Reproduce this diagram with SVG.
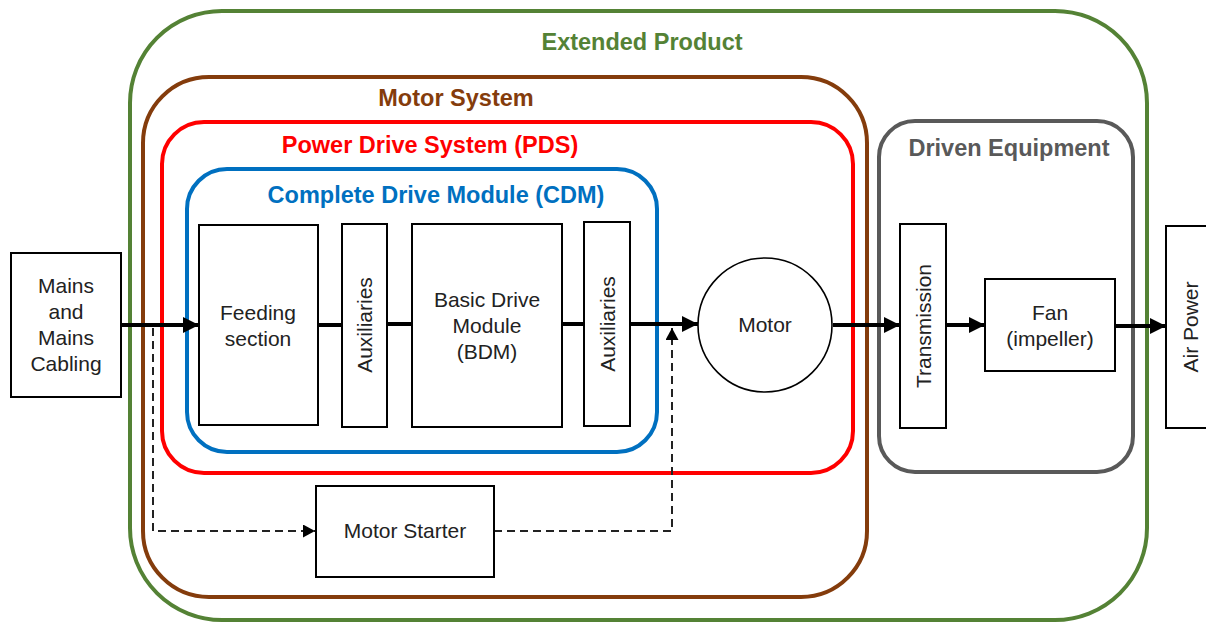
<svg xmlns="http://www.w3.org/2000/svg" width="1206" height="623" viewBox="0 0 1206 623">
  <style>
    .frame { fill: none; stroke-width: 4; }
    .box { fill: #ffffff; stroke: #000000; stroke-width: 2; }
    .lbl { font-family: "Liberation Sans", Arial, sans-serif; font-size: 21px; fill: #222222; text-anchor: middle; }
    .head { font-family: "Liberation Sans", Arial, sans-serif; font-size: 23.5px; font-weight: bold; text-anchor: middle; }
    .flow { fill: none; stroke: #000000; stroke-width: 4; }
    .ctrl { fill: none; stroke: #222222; stroke-width: 2; stroke-dasharray: 8 5; }
  </style>
  <defs>
    <marker id="arrow" markerUnits="userSpaceOnUse" markerWidth="18" markerHeight="18" refX="16" refY="8" orient="auto">
      <path d="M0,0 L16,8 L0,16 Z" fill="#000000"/>
    </marker>
    <marker id="arrowSmall" markerUnits="userSpaceOnUse" markerWidth="13" markerHeight="13" refX="12" refY="6.5" orient="auto">
      <path d="M0,0 L12,6.5 L0,13 Z" fill="#000000"/>
    </marker>
  </defs>
  <rect width="1206" height="623" fill="#ffffff"/>

  <!-- nested system boundaries -->
  <g id="extended-product">
    <rect class="frame" x="130" y="11" width="1017" height="609" rx="92" stroke="#548235"/>
    <text class="head" x="642" y="50" fill="#548235">Extended Product</text>
  </g>
  <g id="motor-system">
    <rect class="frame" x="143" y="77" width="724" height="520" rx="66" stroke="#843c0c"/>
    <text class="head" x="456" y="106" fill="#843c0c">Motor System</text>
  </g>
  <g id="power-drive-system">
    <rect class="frame" x="162" y="122" width="691" height="351" rx="42" stroke="#ff0000"/>
    <text class="head" x="430" y="153" fill="#ff0000">Power Drive System (PDS)</text>
  </g>
  <g id="complete-drive-module">
    <rect class="frame" x="187" y="169" width="470" height="283" rx="40" stroke="#0070c0"/>
    <text class="head" x="436" y="203" fill="#0070c0">Complete Drive Module (CDM)</text>
  </g>
  <g id="driven-equipment">
    <rect class="frame" x="879" y="121" width="254" height="351" rx="36" stroke="#595959"/>
    <text class="head" x="1009" y="156" fill="#595959">Driven Equipment</text>
  </g>

  <!-- connectors -->
  <g id="connectors">
    <line class="flow" x1="121" y1="325" x2="199" y2="325" marker-end="url(#arrow)"/>
    <line class="flow" x1="318" y1="325" x2="342" y2="325"/>
    <line class="flow" x1="387" y1="324" x2="412" y2="324"/>
    <line class="flow" x1="562" y1="324" x2="584" y2="324"/>
    <line class="flow" x1="630" y1="324" x2="698" y2="324" marker-end="url(#arrow)"/>
    <line class="flow" x1="833" y1="325" x2="900" y2="325" marker-end="url(#arrow)"/>
    <line class="flow" x1="946" y1="325" x2="985" y2="325" marker-end="url(#arrow)"/>
    <line class="flow" x1="1115" y1="326" x2="1166" y2="326" marker-end="url(#arrow)"/>
    <polyline class="ctrl" points="153,328 153,531 315,531" marker-end="url(#arrowSmall)"/>
    <polyline class="ctrl" points="494,531 672,531 672,328" marker-end="url(#arrowSmall)"/>
  </g>

  <!-- components -->
  <g id="mains">
    <rect class="box" x="11" y="253" width="110" height="144"/>
    <text class="lbl" x="66" y="293">Mains</text>
    <text class="lbl" x="66" y="319">and</text>
    <text class="lbl" x="66" y="345">Mains</text>
    <text class="lbl" x="66" y="371">Cabling</text>
  </g>
  <g id="feeding-section">
    <rect class="box" x="199" y="225" width="119" height="200"/>
    <text class="lbl" x="258" y="320">Feeding</text>
    <text class="lbl" x="258" y="346">section</text>
  </g>
  <g id="auxiliaries-in">
    <rect class="box" x="342" y="224" width="45" height="203"/>
    <text class="lbl" transform="translate(372,325) rotate(-90)">Auxiliaries</text>
  </g>
  <g id="basic-drive-module">
    <rect class="box" x="412" y="224" width="150" height="203"/>
    <text class="lbl" x="487" y="307">Basic Drive</text>
    <text class="lbl" x="487" y="333">Module</text>
    <text class="lbl" x="487" y="359">(BDM)</text>
  </g>
  <g id="auxiliaries-out">
    <rect class="box" x="584" y="222" width="46" height="204"/>
    <text class="lbl" transform="translate(615,324) rotate(-90)">Auxiliaries</text>
  </g>
  <g id="motor">
    <circle cx="765" cy="325" r="67" fill="#ffffff" stroke="#000000" stroke-width="1.6"/>
    <text class="lbl" x="765" y="332">Motor</text>
  </g>
  <g id="motor-starter">
    <rect class="box" x="316" y="486" width="178" height="91"/>
    <text class="lbl" x="405" y="538">Motor Starter</text>
  </g>
  <g id="transmission">
    <rect class="box" x="900" y="224" width="46" height="204"/>
    <text class="lbl" transform="translate(931,326) rotate(-90)">Transmission</text>
  </g>
  <g id="fan">
    <rect class="box" x="985" y="279" width="130" height="92"/>
    <text class="lbl" x="1050" y="320">Fan</text>
    <text class="lbl" x="1050" y="346">(impeller)</text>
  </g>
  <g id="air-power">
    <rect class="box" x="1166" y="226" width="50" height="202"/>
    <text class="lbl" transform="translate(1198,327) rotate(-90)">Air Power</text>
  </g>
</svg>
